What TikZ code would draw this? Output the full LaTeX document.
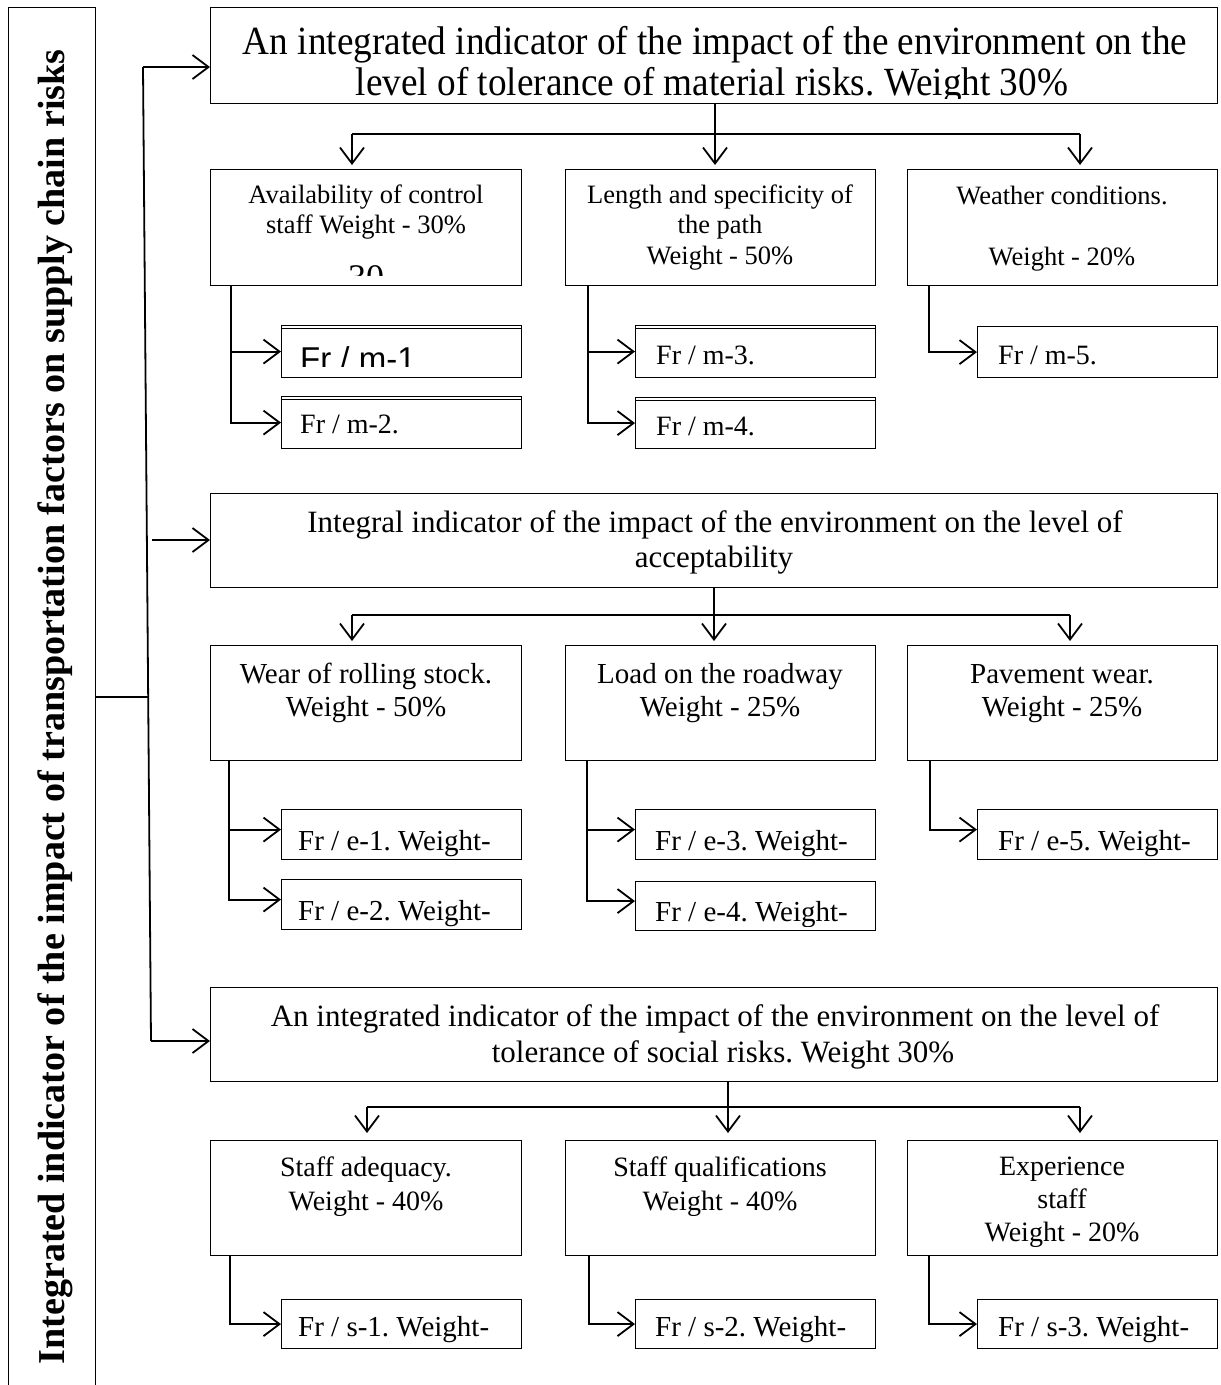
\documentclass[tikz,border=0pt]{standalone}
\usepackage{fontspec}
\setmainfont{Liberation Serif}
\newfontfamily\arialf{Liberation Sans}
\usetikzlibrary{arrows.meta,calc}
\tikzset{
 box/.style={draw, line width=1.2pt, inner sep=0pt, anchor=north west},
 conn/.style={line width=1.8pt},
 arr/.style={conn, -{Straight Barb[length=16pt,width=24pt]}},
}
\newcommand\bx[5]{\node[box, minimum width={(#4-#2)*1pt}, minimum height={(#5-#3)*1pt}] (#1) at (#2,#3) {};}
\newcommand\tc[5]{\node[anchor=base, inner sep=0pt, font=\fontsize{#4}{#4}\selectfont] (#1) at (#2,#3) {#5};}
\newcommand\tw[5]{\node[anchor=base west, inner sep=0pt, font=\fontsize{#4}{#4}\selectfont] (#1) at (#2,#3) {#5};}
\frenchspacing
\begin{document}
\begin{tikzpicture}[x=1pt,y=-1pt]
\useasboundingbox[fill=white] (0,0) rectangle (1221,1385);
% left box
\bx{L}{8}{7}{95}{1400}
\node[rotate=90, anchor=base, inner sep=0pt, font=\fontsize{38}{38}\selectfont\bfseries] (Lt) at (64,707) {\resizebox{1315pt}{\height}{Integrated indicator of the impact of transportation factors on supply chain risks}};
% boxes
\bx{T}{210}{7}{1217}{103}
\bx{A1}{210}{169}{521}{285}
\bx{B1}{565}{169}{875}{285}
\bx{C1}{907}{169}{1217}{285}
\bx{m1}{281}{325}{521}{377}
\bx{m2}{281}{396}{521}{448}
\bx{m3}{635}{325}{875}{377}
\bx{m4}{635}{397}{875}{448}
\bx{m5}{977}{326}{1217}{377}
\bx{M}{210}{493}{1217}{587}
\bx{A2}{210}{645}{521}{760}
\bx{B2}{565}{645}{875}{760}
\bx{C2}{907}{645}{1217}{760}
\bx{e1}{281}{809}{521}{859}
\bx{e2}{281}{879}{521}{929}
\bx{e3}{635}{809}{875}{859}
\bx{e4}{635}{881}{875}{930}
\bx{e5}{977}{809}{1217}{859}
\bx{S}{210}{987}{1217}{1081}
\bx{A3}{210}{1140}{521}{1255}
\bx{B3}{565}{1140}{875}{1255}
\bx{C3}{907}{1140}{1217}{1255}
\bx{s1}{281}{1299}{521}{1348}
\bx{s2}{635}{1299}{875}{1348}
\bx{s3}{977}{1299}{1217}{1348}
% double top edges
\foreach \b in {m1,m2,m3,m4}{\draw[line width=0.8pt] ($(\b.north west)+(0,3)$) -- ($(\b.north east)+(0,3)$);}
% texts
\tc{tT1}{715}{54}{40}{\resizebox{944pt}{\height}{An integrated indicator of the impact of the environment on the}}
\begin{scope}
\clip (210,7) rectangle (1217,98);
\tc{tT2}{712}{95}{40}{\resizebox{712pt}{\height}{level of tolerance of material risks. Weight 30\%}}
\end{scope}
\tc{tA1a}{366}{203}{26.5}{Availability of control}
\tc{tA1b}{366}{233}{26.5}{staff Weight - 30\%}
\begin{scope}
\clip (210,169) rectangle (521,275);
\tc{tA1c}{366}{289}{36}{30}
\end{scope}
\tc{tB1a}{720}{203}{26.5}{Length and specificity of}
\tc{tB1b}{720}{233}{26.5}{the path}
\tc{tB1c}{720}{264}{26.5}{Weight - 50\%}
\tc{tC1a}{1062}{204}{26.5}{Weather conditions.}
\tc{tC1b}{1062}{265}{26.5}{Weight - 20\%}
\begin{scope}
\clip (281,325) rectangle (521,366);
\tw{tm1}{300}{370}{33}{\arialf Fr / m-1}
\end{scope}
\tw{tm2}{300}{433}{28}{Fr / m-2.}
\tw{tm3}{656}{364}{28}{Fr / m-3.}
\tw{tm4}{656}{435}{28}{Fr / m-4.}
\tw{tm5}{998}{364}{28}{Fr / m-5.}
\tc{tM1}{715}{532}{31}{Integral indicator of the impact of the environment on the level of}
\tc{tM2}{714}{567}{31}{acceptability}
\tc{tA2a}{366}{683}{29}{Wear of rolling stock.}
\tc{tA2b}{366}{716}{29}{Weight - 50\%}
\tc{tB2a}{720}{683}{29}{Load on the roadway}
\tc{tB2b}{720}{716}{29}{Weight - 25\%}
\tc{tC2a}{1062}{683}{29}{Pavement wear.}
\tc{tC2b}{1062}{716}{29}{Weight - 25\%}
\begin{scope}
\clip (0,800) rectangle (1221,856);
\tw{te1}{298}{850}{29}{Fr / e-1. Weight-}
\tw{te3}{655}{850}{29}{Fr / e-3. Weight-}
\tw{te5}{998}{850}{29}{Fr / e-5. Weight-}
\end{scope}
\begin{scope}
\clip (0,870) rectangle (1221,926);
\tw{te2}{298}{920}{29}{Fr / e-2. Weight-}
\tw{te4}{655}{921}{29}{Fr / e-4. Weight-}
\end{scope}
\tc{tS1}{715}{1026}{31}{An integrated indicator of the impact of the environment on the level of}
\tc{tS2}{723}{1062}{31}{tolerance of social risks. Weight 30\%}
\tc{tA3a}{366}{1176}{28}{Staff adequacy.}
\tc{tA3b}{366}{1210}{28}{Weight - 40\%}
\tc{tB3a}{720}{1176}{28}{Staff qualifications}
\tc{tB3b}{720}{1210}{28}{Weight - 40\%}
\tc{tC3a}{1062}{1175}{28}{Experience}
\tc{tC3b}{1062}{1208}{28}{staff}
\begin{scope}
\clip (907,1140) rectangle (1217,1246);
\tc{tC3c}{1062}{1241}{28}{Weight - 20\%}
\end{scope}
\begin{scope}
\clip (0,1290) rectangle (1221,1342);
\tw{ts1}{298}{1336}{29}{Fr / s-1. Weight-}
\tw{ts2}{655}{1336}{29}{Fr / s-2. Weight-}
\tw{ts3}{998}{1336}{29}{Fr / s-3. Weight-}
\end{scope}
% main trunk
\coordinate (tr1) at (143,67);
\coordinate (tr2) at (147,540);
\coordinate (tr3) at (151,1041);
\coordinate (lj) at (149,697);
\draw[conn] (tr1) -- (tr3);
\draw[arr] (tr1) -- (tr1 -| T.west);
\draw[arr] ($(tr2)+(5,0)$) -- (tr2 -| M.west);
\draw[arr] (tr3) -- (tr3 -| S.west);
\draw[line width=1.2pt] (L.east |- lj) -- (lj);
% row 1
\coordinate (h1) at (715,134);
\coordinate (h1l) at (352,134);
\coordinate (h1r) at (1080,134);
\draw[conn] (h1l) -- (h1r);
\draw[arr, shorten >=4pt] (T.south -| h1) -- (h1 |- B1.north);
\draw[arr, shorten >=4pt] (h1l) -- (h1l |- A1.north);
\draw[arr, shorten >=4pt] (h1r) -- (h1r |- C1.north);
\coordinate (a1) at ($(A1.south west)+(21,0)$);
\coordinate (b1) at ($(B1.south west)+(23,0)$);
\coordinate (c1) at ($(C1.south west)+(22,0)$);
\draw[arr] (a1) |- (m1.west);
\draw[arr] (a1) |- (m2.west);
\draw[arr] (b1) |- (m3.west);
\draw[arr] (b1) |- (m4.west);
\draw[arr] (c1) |- (m5.west);
% row 2
\coordinate (h2) at (714,615);
\coordinate (h2l) at (352,615);
\coordinate (h2r) at (1070,615);
\draw[conn] (h2l) -- (h2r);
\draw[arr, shorten >=4pt] (M.south -| h2) -- (h2 |- B2.north);
\draw[arr, shorten >=4pt] (h2l) -- (h2l |- A2.north);
\draw[arr, shorten >=4pt] (h2r) -- (h2r |- C2.north);
\coordinate (a2) at ($(A2.south west)+(19,0)$);
\coordinate (b2) at ($(B2.south west)+(22,0)$);
\coordinate (c2) at ($(C2.south west)+(23,0)$);
\draw[arr] (a2) |- ($(e1.west)+(0,-5)$);
\draw[arr] (a2) |- ($(e2.west)+(0,-5)$);
\draw[arr] (b2) |- ($(e3.west)+(0,-5)$);
\draw[arr] (b2) |- ($(e4.west)+(0,-5)$);
\draw[arr] (c2) |- ($(e5.west)+(0,-5)$);
% row 3
\coordinate (h3) at (728,1107);
\coordinate (h3l) at (367,1107);
\coordinate (h3r) at (1080,1107);
\draw[conn] (h3l) -- (h3r);
\draw[arr, shorten >=7pt] (S.south -| h3) -- (h3 |- B3.north);
\draw[arr, shorten >=7pt] (h3l) -- (h3l |- A3.north);
\draw[arr, shorten >=7pt] (h3r) -- (h3r |- C3.north);
\coordinate (a3) at ($(A3.south west)+(20,0)$);
\coordinate (b3) at ($(B3.south west)+(24,0)$);
\coordinate (c3) at ($(C3.south west)+(22,0)$);
\draw[arr] (a3) |- (s1.west);
\draw[arr] (b3) |- (s2.west);
\draw[arr] (c3) |- (s3.west);
\end{tikzpicture}
\end{document}
